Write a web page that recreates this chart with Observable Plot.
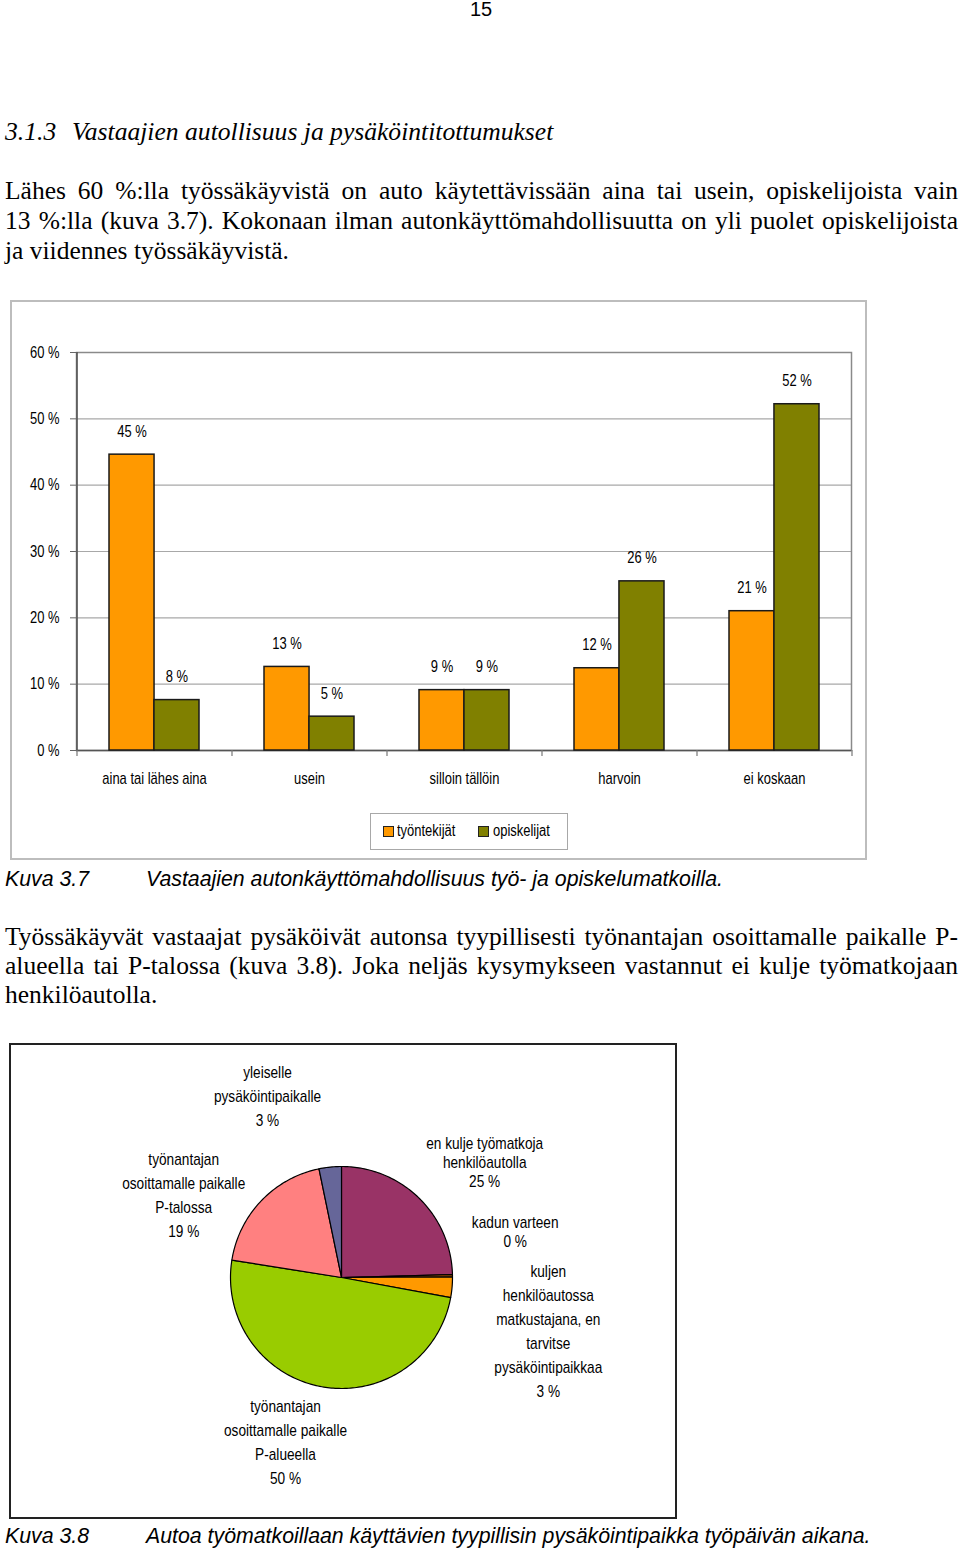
<!DOCTYPE html>
<html><head><meta charset="utf-8">
<script src="https://cdn.jsdelivr.net/npm/d3@7"></script>
<script src="https://cdn.jsdelivr.net/npm/@observablehq/plot@0.6"></script>
<style>
html,body{margin:0;padding:0;background:#fff;}
body{width:960px;height:1551px;position:relative;overflow:hidden;font-family:"Liberation Serif","Times New Roman",serif;color:#000;}
.abs{position:absolute;}
.pagenum{left:0;width:962px;text-align:center;top:-3px;font-family:"Liberation Sans",Arial,sans-serif;font-size:20px;line-height:24px;}
.heading{top:117px;font-style:italic;font-size:25.6px;line-height:30px;white-space:nowrap;}
.para{left:5px;width:953px;font-size:25.5px;}
.para div{white-space:nowrap;text-align:justify;text-align-last:justify;}
.para div.last{text-align-last:left;}
.cap{font-family:"Liberation Sans",Arial,sans-serif;font-style:italic;font-size:21.3px;line-height:26px;white-space:nowrap;}
.box1{left:10px;top:300px;width:853px;height:556px;border:2px solid #bdbdbd;}
.box2{left:9px;top:1043px;width:664px;height:472px;border:2px solid #222;}
.legend{left:370px;top:813px;width:196px;height:35px;border:1.5px solid #a8a8a8;font-family:"Liberation Sans",Arial,sans-serif;font-size:16px;}
.sw{position:absolute;width:9px;height:9px;border:1.2px solid #222;top:12px;}
.lt{position:absolute;top:7px;line-height:20px;transform:scaleX(0.81);transform-origin:0 50%;white-space:nowrap;}
#bars,#pie{position:absolute;}
</style></head>
<body>
<div class="abs pagenum">15</div>
<div class="abs heading" style="left:5px">3.1.3</div>
<div class="abs heading" style="left:72px">Vastaajien autollisuus ja pysäköintitottumukset</div>
<div class="abs para" style="top:176px;line-height:30px">
<div>Lähes 60 %:lla työssäkäyvistä on auto käytettävissään aina tai usein, opiskelijoista vain</div>
<div>13 %:lla (kuva 3.7). Kokonaan ilman autonkäyttömahdollisuutta on yli puolet opiskelijoista</div>
<div class="last">ja viidennes työssäkäyvistä.</div>
</div>
<div class="abs box1"></div>
<div id="bars"></div>
<div class="abs legend">
  <div class="sw" style="left:12px;background:#FF9900"></div><div class="lt" style="left:26px">työntekijät</div>
  <div class="sw" style="left:107px;background:#808000"></div><div class="lt" style="left:122px">opiskelijat</div>
</div>
<div class="abs cap" style="left:5px;top:866px">Kuva 3.7</div>
<div class="abs cap" style="left:146px;top:866px">Vastaajien autonkäyttömahdollisuus työ- ja opiskelumatkoilla.</div>
<div class="abs para" style="top:922px;line-height:29px">
<div>Työssäkäyvät vastaajat pysäköivät autonsa tyypillisesti työnantajan osoittamalle paikalle P-</div>
<div>alueella tai P-talossa (kuva 3.8). Joka neljäs kysymykseen vastannut ei kulje työmatkojaan</div>
<div class="last">henkilöautolla.</div>
</div>
<div class="abs box2"></div>
<div id="pie"></div>
<div class="abs cap" style="left:5px;top:1523px">Kuva 3.8</div>
<div class="abs cap" style="left:146px;top:1523px">Autoa työmatkoillaan käyttävien tyypillisin pysäköintipaikka työpäivän aikana.</div>

<script>
// ---------- data: Kuva 3.7 ----------
const categories = ["aina tai lähes aina", "usein", "silloin tällöin", "harvoin", "ei koskaan"];
const seriesNames = ["työntekijät", "opiskelijat"];
const tyontekijat = [44.6, 12.6, 9.1, 12.4, 21.0];
const opiskelijat = [7.6, 5.1, 9.1, 25.5, 52.2];
const yTicks = [0, 10, 20, 30, 40, 50, 60];
const seriesColors = ["#FF9900", "#808000"];

// ---------- data: Kuva 3.8 ----------
const pieNames = [
  "en kulje työmatkoja\nhenkilöautolla",
  "kadun varteen",
  "kuljen\nhenkilöautossa\nmatkustajana, en\ntarvitse\npysäköintipaikkaa",
  "työnantajan\nosoittamalle paikalle\nP-alueella",
  "työnantajan\nosoittamalle paikalle\nP-talossa",
  "yleiselle\npysäköintipaikalle"
];
const pieValues = [24.6, 0.3, 3.0, 49.6, 19.25, 3.25];
const pieColors = ["#993366", "#CC6600", "#FF9900", "#99CC00", "#FF8080", "#666699"];

// ---------- layout ----------
const SANS = '"Liberation Sans",Arial,sans-serif';
const W1 = 870, H1 = 520, mL = 76, mR = 19, mT = 52, mB = 70;
const padIn = 0.42, padOut = 0.21;
const step = (W1 - mL - mR) / (categories.length - padIn + 2 * padOut);
const bw = step * (1 - padIn);
const pxPerUnit = (H1 - mT - mB) / 60;
const tickLen = 6 / pxPerUnit;

// condense the chart lettering (the original uses a narrow sans face)
function condense(svg, s) {
  svg.querySelectorAll("text").forEach(t => {
    const tr = t.getAttribute("transform") || "";
    t.setAttribute("transform", (tr + " scale(" + s + ",1)").trim());
  });
  return svg;
}

const rowsA = categories.map((c, i) => ({category: c, series: seriesNames[0], value: tyontekijat[i]}));
const rowsB = categories.map((c, i) => ({category: c, series: seriesNames[1], value: opiskelijat[i]}));
const pct = d => Math.round(d.value) + " %";

const bars = Plot.plot({
  width: W1, height: H1, marginLeft: mL, marginRight: mR, marginTop: mT, marginBottom: mB,
  style: {fontFamily: SANS, fontSize: "16px", background: "transparent", color: "#000", overflow: "visible"},
  x: {domain: categories, paddingInner: padIn, paddingOuter: padOut, label: null},
  y: {domain: [0, 60], label: null},
  marks: [
    Plot.gridY(yTicks, {stroke: "#a8a8a8", strokeOpacity: 1, strokeWidth: 1.2}),
    Plot.frame({stroke: "#8a8a8a", strokeWidth: 1.5}),
    Plot.ruleY([0], {stroke: "#555", strokeWidth: 1.6}),
    Plot.ruleX([categories[0]], {dx: -step / 2, y1: 0, y2: 60, stroke: "#555", strokeWidth: 1.6}),
    Plot.ruleX(categories, {dx: -step / 2, y1: 0, y2: -tickLen, stroke: "#777", strokeWidth: 1.2}),
    Plot.ruleX([categories[categories.length - 1]], {dx: step / 2, y1: 0, y2: -tickLen, stroke: "#777", strokeWidth: 1.2}),
    Plot.barY(rowsA, {x: "category", y: "value", fill: seriesColors[0], stroke: "#1a1a1a", strokeWidth: 1.5, insetRight: bw / 2}),
    Plot.barY(rowsB, {x: "category", y: "value", fill: seriesColors[1], stroke: "#1a1a1a", strokeWidth: 1.5, insetLeft: bw / 2}),
    Plot.text(rowsA, {x: "category", y: "value", text: pct, dx: -bw / 4, dy: -23, fontSize: 16}),
    Plot.text(rowsB, {x: "category", y: "value", text: pct, dx: bw / 4, dy: -23, fontSize: 16}),
    Plot.axisY(yTicks, {tickFormat: d => d + " %", tickSize: 6, tickPadding: 11, stroke: "#666", fontSize: 16}),
    Plot.axisX({tickSize: 0, tickPadding: 22, fontSize: 16})
  ]
});
condense(bars, 0.81);
const barsHost = document.getElementById("bars");
barsHost.style.left = "0px"; barsHost.style.top = "300px";
barsHost.appendChild(bars);

// ---------- pie ----------
const W2 = 666, H2 = 474, R = 111, cx = 332, cy = 234;
const arcs = d3.pie().sort(null).value(d => d)(pieValues);
const wedgePts = [];
arcs.forEach((a, i) => {
  const n = Math.max(2, Math.ceil((a.endAngle - a.startAngle) / (Math.PI / 180)));
  wedgePts.push({slice: i, color: pieColors[i], x: 0, y: 0});
  for (let k = 0; k <= n; k++) {
    const t = a.startAngle + (a.endAngle - a.startAngle) * k / n;
    wedgePts.push({slice: i, color: pieColors[i], x: Math.sin(t), y: Math.cos(t)});
  }
  wedgePts.push({slice: i, color: pieColors[i], x: 0, y: 0});
});
// label placement (angle in degrees clockwise from 12 o'clock, distance in pie radii)
const labelPlacement = [[51, 1.66], [75, 1.62], [104, 1.92], [199, 1.55], [298, 1.61], [338, 1.78]];
const labelRows = pieNames.map((nm, i) => {
  const a = labelPlacement[i][0] * Math.PI / 180, r = labelPlacement[i][1];
  return {text: nm + "\n" + Math.round(pieValues[i]) + " %", x: r * Math.sin(a), y: r * Math.cos(a), tight: i < 2};
});

const pie = Plot.plot({
  width: W2, height: H2, margin: 0,
  style: {fontFamily: SANS, fontSize: "16px", background: "transparent", color: "#000", overflow: "visible"},
  x: {domain: [-cx / R, (W2 - cx) / R], axis: null},
  y: {domain: [-(H2 - cy) / R, cy / R], axis: null},
  color: {type: "identity"},
  marks: [
    Plot.line(wedgePts, {x: "x", y: "y", z: "slice", fill: "color", stroke: "#000", strokeWidth: 1.2, strokeLinejoin: "round"}),
    Plot.text(labelRows.filter(d => d.tight), {x: "x", y: "y", text: "text", lineHeight: 1.19, fontSize: 16}),
    Plot.text(labelRows.filter(d => !d.tight), {x: "x", y: "y", text: "text", lineHeight: 1.5, fontSize: 16})
  ]
});
condense(pie, 0.855);
const pieHost = document.getElementById("pie");
pieHost.style.left = "9px"; pieHost.style.top = "1043px";
pieHost.appendChild(pie);
</script>
</body></html>
